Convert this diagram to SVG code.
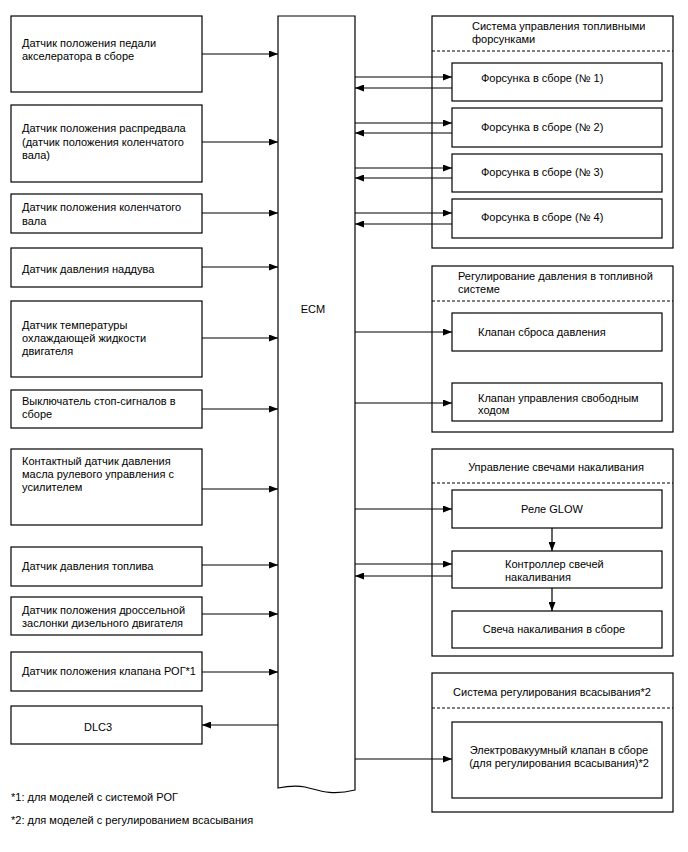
<svg xmlns="http://www.w3.org/2000/svg" width="688" height="852" viewBox="0 0 688 852">
<style>
.box{fill:#fff;stroke:#000;stroke-width:1.2}
.grp{fill:#fff;stroke:#000;stroke-width:1.2}
.dash{stroke:#000;stroke-width:1;stroke-dasharray:3,2;fill:none}
.t{font-family:"Liberation Sans",Arial,sans-serif;font-size:11px;fill:#000}
.c{text-anchor:middle}
.ln{stroke:#000;stroke-width:1.2;fill:none;marker-end:url(#ah)}
</style>
<defs>
<marker id="ah" markerUnits="userSpaceOnUse" markerWidth="9" markerHeight="7" refX="9" refY="3.5" orient="auto">
<path d="M0,0 L9,3.5 L0,7 z" fill="#000"/>
</marker>
</defs>
<rect width="688" height="852" fill="#fff"/>

<g id="ecm">
<path class="box" d="M278,16 H355 V790 C330,796 318,790 305,787 C295,785 288,786 278,788 Z"/>
<text class="t c" x="313" y="313">ECM</text>
</g>

<g id="s1"><rect class="box" x="11" y="16" width="191" height="76"/>
<text class="t" x="22" y="47">Датчик положения педали</text><text class="t" x="22" y="60">акселератора в сборе</text></g>
<g id="s2"><rect class="box" x="11" y="105" width="191" height="77"/>
<text class="t" x="22" y="132">Датчик положения распредвала</text><text class="t" x="22" y="146">(датчик положения коленчатого</text><text class="t" x="22" y="159">вала)</text></g>
<g id="s3"><rect class="box" x="11" y="194" width="191" height="39"/>
<text class="t" x="22" y="211">Датчик положения коленчатого</text><text class="t" x="22" y="225">вала</text></g>
<g id="s4"><rect class="box" x="11" y="248" width="191" height="39"/>
<text class="t" x="22" y="273">Датчик давления наддува</text></g>
<g id="s5"><rect class="box" x="11" y="301" width="191" height="76"/>
<text class="t" x="22" y="329">Датчик температуры</text><text class="t" x="22" y="342">охлаждающей жидкости</text><text class="t" x="22" y="355">двигателя</text></g>
<g id="s6"><rect class="box" x="11" y="390" width="191" height="38"/>
<text class="t" x="22" y="405">Выключатель стоп-сигналов в</text><text class="t" x="22" y="418">сборе</text></g>
<g id="s7"><rect class="box" x="11" y="449" width="191" height="76"/>
<text class="t" x="22" y="465">Контактный датчик давления</text><text class="t" x="22" y="478">масла рулевого управления с</text><text class="t" x="22" y="491">усилителем</text></g>
<g id="s8"><rect class="box" x="11" y="547" width="191" height="39"/>
<text class="t" x="22" y="570">Датчик давления топлива</text></g>
<g id="s9"><rect class="box" x="11" y="597" width="191" height="38"/>
<text class="t" x="22" y="614">Датчик положения дроссельной</text><text class="t" x="22" y="627">заслонки дизельного двигателя</text></g>
<g id="s10"><rect class="box" x="11" y="652" width="191" height="39"/>
<text class="t" x="22" y="675">Датчик положения клапана РОГ*1</text></g>
<g id="dlc3"><rect class="box" x="11" y="706" width="191" height="38"/>
<text class="t c" x="98" y="731">DLC3</text></g>

<g id="g1">
<rect class="grp" x="432" y="16" width="241" height="232"/>
<text class="t" x="472" y="30">Система управления топливными</text><text class="t" x="472" y="43">форсунками</text>
<line class="dash" x1="432" y1="51" x2="673" y2="51"/>
</g>
<g id="inj1"><rect class="box" x="452" y="63" width="210" height="38"/><text class="t" x="481" y="82">Форсунка в сборе (№ 1)</text></g>
<g id="inj2"><rect class="box" x="452" y="108" width="210" height="39"/><text class="t" x="481" y="131">Форсунка в сборе (№ 2)</text></g>
<g id="inj3"><rect class="box" x="452" y="154" width="210" height="38"/><text class="t" x="481" y="176">Форсунка в сборе (№ 3)</text></g>
<g id="inj4"><rect class="box" x="452" y="199" width="210" height="39"/><text class="t" x="481" y="221">Форсунка в сборе (№ 4)</text></g>

<g id="g2">
<rect class="grp" x="432" y="266" width="241" height="166"/>
<text class="t" x="458" y="280">Регулирование давления в топливной</text><text class="t" x="458" y="293">системе</text>
<line class="dash" x1="432" y1="301" x2="673" y2="301"/>
</g>
<g id="prv"><rect class="box" x="452" y="313" width="210" height="38"/><text class="t" x="478" y="336">Клапан сброса давления</text></g>
<g id="icv"><rect class="box" x="452" y="383" width="210" height="38"/><text class="t" x="478" y="402">Клапан управления свободным</text><text class="t" x="478" y="414">ходом</text></g>

<g id="g3">
<rect class="grp" x="432" y="449" width="241" height="207"/>
<text class="t c" x="556" y="471">Управление свечами накаливания</text>
<line class="dash" x1="432" y1="483" x2="673" y2="483"/>
</g>
<g id="glow"><rect class="box" x="452" y="490" width="210" height="38"/><text class="t c" x="552" y="513">Реле GLOW</text></g>
<g id="gctl"><rect class="box" x="452" y="551" width="210" height="37"/><text class="t" x="505" y="568">Контроллер свечей</text><text class="t" x="505" y="581">накаливания</text></g>
<g id="plug"><rect class="box" x="452" y="611" width="210" height="37"/><text class="t c" x="554" y="633">Свеча накаливания в сборе</text></g>

<g id="g4">
<rect class="grp" x="432" y="673" width="241" height="139"/>
<text class="t c" x="552" y="696">Система регулирования всасывания*2</text>
<line class="dash" x1="432" y1="708" x2="673" y2="708"/>
</g>
<g id="vsv"><rect class="box" x="452" y="722" width="210" height="76"/><text class="t c" x="559" y="754">Электровакуумный клапан в сборе</text><text class="t c" x="559" y="767">(для регулирования всасывания)*2</text></g>

<g id="notes">
<text class="t" x="11" y="801">*1: для моделей с системой РОГ</text>
<text class="t" x="11" y="824">*2: для моделей с регулированием всасывания</text>
</g>

<g id="connectors">
<line class="ln" x1="202" y1="54" x2="278" y2="54"/>
<line class="ln" x1="202" y1="142" x2="278" y2="142"/>
<line class="ln" x1="202" y1="213" x2="278" y2="213"/>
<line class="ln" x1="202" y1="267" x2="278" y2="267"/>
<line class="ln" x1="202" y1="338" x2="278" y2="338"/>
<line class="ln" x1="202" y1="409" x2="278" y2="409"/>
<line class="ln" x1="202" y1="489" x2="278" y2="489"/>
<line class="ln" x1="202" y1="565" x2="278" y2="565"/>
<line class="ln" x1="202" y1="614" x2="278" y2="614"/>
<line class="ln" x1="202" y1="672" x2="278" y2="672"/>
<line class="ln" x1="278" y1="725" x2="202" y2="725"/>

<line class="ln" x1="355" y1="77" x2="452" y2="77"/>
<line class="ln" x1="452" y1="88" x2="355" y2="88"/>
<line class="ln" x1="355" y1="123" x2="452" y2="123"/>
<line class="ln" x1="452" y1="133" x2="355" y2="133"/>
<line class="ln" x1="355" y1="168" x2="452" y2="168"/>
<line class="ln" x1="452" y1="178" x2="355" y2="178"/>
<line class="ln" x1="355" y1="213" x2="452" y2="213"/>
<line class="ln" x1="452" y1="224" x2="355" y2="224"/>

<line class="ln" x1="355" y1="332" x2="452" y2="332"/>
<line class="ln" x1="355" y1="403" x2="452" y2="403"/>

<line class="ln" x1="355" y1="509" x2="452" y2="509"/>
<line class="ln" x1="355" y1="564" x2="452" y2="564"/>
<line class="ln" x1="452" y1="576" x2="355" y2="576"/>
<line class="ln" x1="552" y1="528" x2="552" y2="551"/>
<line class="ln" x1="552" y1="588" x2="552" y2="611"/>

<line class="ln" x1="355" y1="759" x2="452" y2="759"/>
</g>
</svg>
